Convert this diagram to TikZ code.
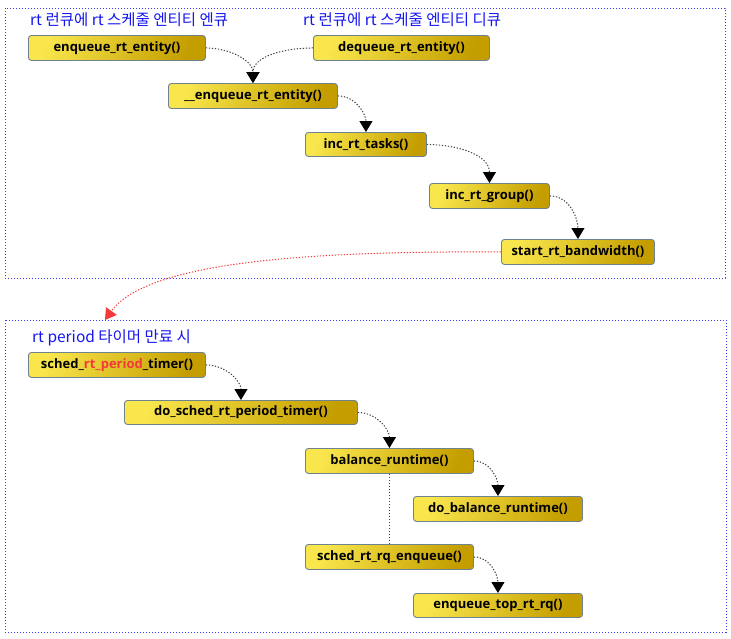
\documentclass[tikz,border=0pt]{standalone}
\usepackage{fontspec}
\setmainfont{Open Sans}
\newfontfamily\krfont{Noto Sans CJK KR}
\usetikzlibrary{arrows.meta}
\definecolor{frameblue}{HTML}{3A3AF5}
\definecolor{labelblue}{HTML}{1515F0}
\definecolor{boxL}{HTML}{F8E64C}
\definecolor{boxR}{HTML}{C49E00}
\definecolor{boxborder}{HTML}{6F8290}
\definecolor{conncol}{HTML}{404040}
\definecolor{redc}{HTML}{F23A3A}
\tikzset{
  fn/.style={rectangle, rounded corners=3pt, draw=boxborder, line width=0.9pt,
    left color=boxL, right color=boxR, shading angle=70,
    anchor=north west, inner sep=0pt, font=\fontsize{13}{15}\selectfont\bfseries, text=black},
  conn/.style={draw=conncol, line width=1pt, dash pattern=on 1.3pt off 1.7pt,
    -{Triangle[width=13pt,length=11pt,fill=black,color=black]}},
  plainconn/.style={draw=conncol, line width=1pt, dash pattern=on 1.3pt off 1.7pt},
  redconn/.style={draw=redc, line width=1pt, dash pattern=on 1.3pt off 1.7pt,
    -{Triangle[width=13pt,length=11pt,fill=redc,color=redc]}},
  frame/.style={draw=frameblue, line width=1pt, dash pattern=on 1.3pt off 1.7pt},
  lbl/.style={anchor=west, inner sep=0pt, text=labelblue, font=\krfont\fontsize{15.5}{17}\selectfont}
}
\begin{document}
\begin{tikzpicture}[x=1pt,y=-1pt]
\useasboundingbox (0,0) rectangle (731,638);
% frames
\draw[frame] (5,8) rectangle (725,278);
\draw[frame] (5,320) rectangle (726,632);
% labels
\node[lbl] (l1) at (30,20) {rt 런큐에 rt 스케줄 엔티티 엔큐};
\node[lbl] (l2) at (303,20) {rt 런큐에 rt 스케줄 엔티티 디큐};
\node[lbl] (l3) at (32,338) {rt period 타이머 만료 시};
% top nodes
\node[fn, minimum width=177pt, minimum height=25pt] (enq) at (28,35) {enqueue\_rt\_entity()};
\node[fn, minimum width=176pt, minimum height=25pt] (deq) at (313,35) {dequeue\_rt\_entity()};
\node[fn, minimum width=169pt, minimum height=25pt] (uenq) at (168,83) {\_\_enqueue\_rt\_entity()};
\node[fn, minimum width=121pt, minimum height=24pt] (inct) at (305,132) {inc\_rt\_tasks()};
\node[fn, minimum width=120pt, minimum height=25pt] (incg) at (429,183) {inc\_rt\_group()};
\node[fn, minimum width=153pt, minimum height=25pt] (start) at (501,239) {start\_rt\_bandwidth()};
% bottom nodes
\node[fn, minimum width=177pt, minimum height=25pt] (timer) at (28,352) {sched\_{\color{redc}rt\_period}\_timer()};
\node[fn, minimum width=233pt, minimum height=24pt] (dotimer) at (124,400) {do\_sched\_rt\_period\_timer()};
\node[fn, minimum width=168pt, minimum height=25pt] (bal) at (305,448) {balance\_runtime()};
\node[fn, minimum width=169pt, minimum height=25pt] (dobal) at (413,496) {do\_balance\_runtime()};
\node[fn, minimum width=168pt, minimum height=25pt] (rqenq) at (305,544) {sched\_rt\_rq\_enqueue()};
\node[fn, minimum width=169pt, minimum height=24pt] (toprq) at (413,593) {enqueue\_top\_rt\_rq()};
\coordinate (redend) at (105,320);
% connectors
\draw[conn] (enq.east) to[out=0,in=90] (uenq.north);
\draw[conn] (deq.west) to[out=180,in=90] (uenq.north);
\draw[conn] (uenq.east) to[out=0,in=90] (inct.north);
\draw[conn] (inct.east) to[out=0,in=90] (incg.north);
\draw[conn] (incg.east) to[out=0,in=90] (start.north);
\draw[redconn] (start.west) .. controls (320,251) and (148,260) .. (redend);
\draw[conn] (timer.east) to[out=0,in=90] (dotimer.north);
\draw[conn] (dotimer.east) to[out=0,in=90] (bal.north);
\draw[conn] (bal.east) to[out=0,in=90] (dobal.north);
\draw[plainconn] (bal.south) -- (rqenq.north);
\draw[conn] (rqenq.east) to[out=0,in=90] (toprq.north);
\end{tikzpicture}
\end{document}
